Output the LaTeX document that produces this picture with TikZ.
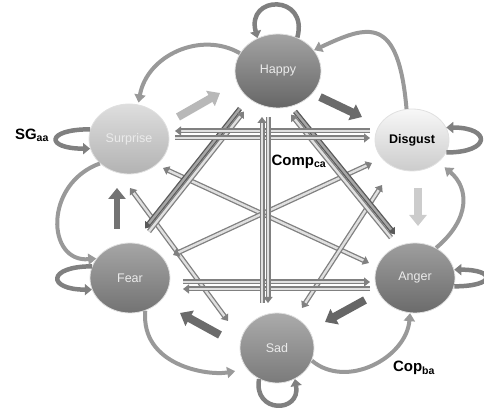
\documentclass[tikz,border=0pt]{standalone}
\usepackage{fontspec}
\setmainfont{Liberation Sans}
\usetikzlibrary{shapes.geometric,arrows.meta}

\begin{document}
\begin{tikzpicture}[x=1pt,y=1pt,
    emo/.style={ellipse,inner sep=0pt,minimum width=80pt,minimum height=70pt,
      draw=black!12,line width=0.8pt,font=\fontsize{12.5}{14}\selectfont,text=white!92!black},
    fat/.style={line width=8pt,-{Triangle[width=17pt,length=11pt]}},
    tube/.style={draw=black!50,double=black!12,double distance=2.4pt,line width=1.3pt,
      -{Triangle[width=9pt,length=6pt]}},
    tubes/.style={tube,{Triangle[width=9pt,length=6pt]}-{Triangle[width=9pt,length=6pt]}},
    curv/.style={line width=4pt,black!40,-{Triangle[width=11pt,length=8pt]}},
    loopy/.style={line width=4.5pt,black!50,-{Triangle[width=11pt,length=7pt]}},
    lbl/.style={font=\fontsize{15}{17}\selectfont\bfseries}]
  \useasboundingbox (0,0) rectangle (484,414);
  % the six emotions
  \node[emo,minimum width=86pt,minimum height=74pt,top color=black!36,bottom color=black!60] (happy) at (278,343) {Happy};
  \node[emo,top color=black!13,bottom color=black!30] (surprise) at (129,275) {Surprise};
  \node[emo,minimum width=74pt,minimum height=62pt,top color=black!3,bottom color=black!20,text=black,font=\fontsize{12.5}{14}\selectfont\bfseries] (disgust) at (412,274) {Disgust};
  \node[emo,top color=black!35,bottom color=black!55] (fear) at (130,136) {Fear};
  \node[emo,top color=black!38,bottom color=black!58] (anger) at (415,136) {Anger};
  \node[emo,minimum width=74pt,top color=black!33,bottom color=black!52] (sad) at (277,66) {Sad};
  % labels
  \node[lbl] (sg) at (32,279) {SG\textsubscript{aa}};
  \node[lbl] (comp) at (299,252) {Comp\textsubscript{ca}};
  \node[lbl] (cop) at (414,46) {Cop\textsubscript{ba}};
  % self loops
  \draw[loopy] (happy.60) .. controls +(75:45) and +(105:45) .. (happy.122);
  \draw[loopy] (surprise.166) .. controls +(180:45) and +(180:45) .. (surprise.194);
  \draw[loopy] (fear.163) .. controls +(180:45) and +(180:45) .. (fear.197);
  \draw[loopy] (disgust.340) .. controls +(0:45) and +(0:45) .. (disgust.20);
  \draw[loopy] (anger.348) .. controls +(0:42) and +(0:42) .. (anger.12);
  \draw[loopy] (sad.240) .. controls +(260:35) and +(280:35) .. (sad.300);
  % curved arrows around the ring
  \draw[curv,shorten >=2pt] (happy.155) .. controls +(150:45) and +(80:50) .. (surprise.75);
  \draw[curv] (disgust.100) .. controls +(95:95) and +(25:60) .. (happy.30);
  \draw[curv] (surprise.220) .. controls +(200:60) and +(185:50) .. (fear.150);
  \draw[curv,shorten >=12pt] (fear.295) .. controls +(265:55) and +(190:40) .. (sad.215);
  \draw[curv] (sad.340) .. controls +(320:45) and +(265:45) .. (anger.262);
  \draw[curv,shorten >=8pt] (anger.55) .. controls +(40:45) and +(320:40) .. (disgust.320);
  % fat arrows between neighbours
  \draw[fat,black!58] ([shift={(42,-26)}]happy.center) -- ([shift={(-50,23)}]disgust.center);
  \draw[fat,black!28] ([shift={(49,22)}]surprise.center) -- ([shift={(-58,-22)}]happy.center);
  \draw[fat,black!55,line width=6pt] ([shift={(-13,49)}]fear.center) -- ([shift={(-12,-49)}]surprise.center);
  \draw[fat,black!20] ([shift={(6,-48)}]disgust.center) -- ([shift={(3,52)}]anger.center);
  \draw[fat,black!60] ([shift={(-50,-22)}]anger.center) -- ([shift={(48,26)}]sad.center);
  \draw[fat,black!58] ([shift={(-57,13)}]sad.center) -- ([shift={(50,-35)}]fear.center);
  % tubes across the middle
  \draw[tubes] ([shift={(34,-29)}]surprise.center) -- ([shift={(-46,15)}]anger.center);
  \draw[tubes] ([shift={(1,-49)}]surprise.center) -- ([shift={(-49,27)}]sad.center);
  \draw[tubes] ([shift={(43,23)}]fear.center) -- ([shift={(-40,-23)}]disgust.center);
  \draw[tubes] ([shift={(-30,-45)}]disgust.center) -- ([shift={(25,40)}]sad.center);
  \draw[tube,draw=black!65,double=black!35] ([shift={(-38,-37.5)}]happy.center) -- ([shift={(15,49.5)}]fear.center);
  \draw[tube] ([shift={(19,46.5)}]fear.center) -- ([shift={(-34,-40.5)}]happy.center);
  \draw[tube,draw=black!65,double=black!35] ([shift={(17,-40.4)}]happy.center) -- ([shift={(-20,43.6)}]anger.center);
  \draw[tube] ([shift={(-24,40.4)}]anger.center) -- ([shift={(13,-43.6)}]happy.center);
  \draw[tube] ([shift={(-42,9)}]disgust.center) -- ([shift={(46,8)}]surprise.center);
  \draw[tube] ([shift={(46,1)}]surprise.center) -- ([shift={(-42,2)}]disgust.center);
  \draw[tube] ([shift={(53,-4)}]fear.center) -- ([shift={(-45,-4)}]anger.center);
  \draw[tube] ([shift={(-45,-11)}]anger.center) -- ([shift={(53,-11)}]fear.center);
  \draw[tube] ([shift={(-15,45)}]sad.center) -- ([shift={(-16,-46)}]happy.center);
  \draw[tube] ([shift={(-10,-46)}]happy.center) -- ([shift={(-9,45)}]sad.center);
\end{tikzpicture}
\end{document}
